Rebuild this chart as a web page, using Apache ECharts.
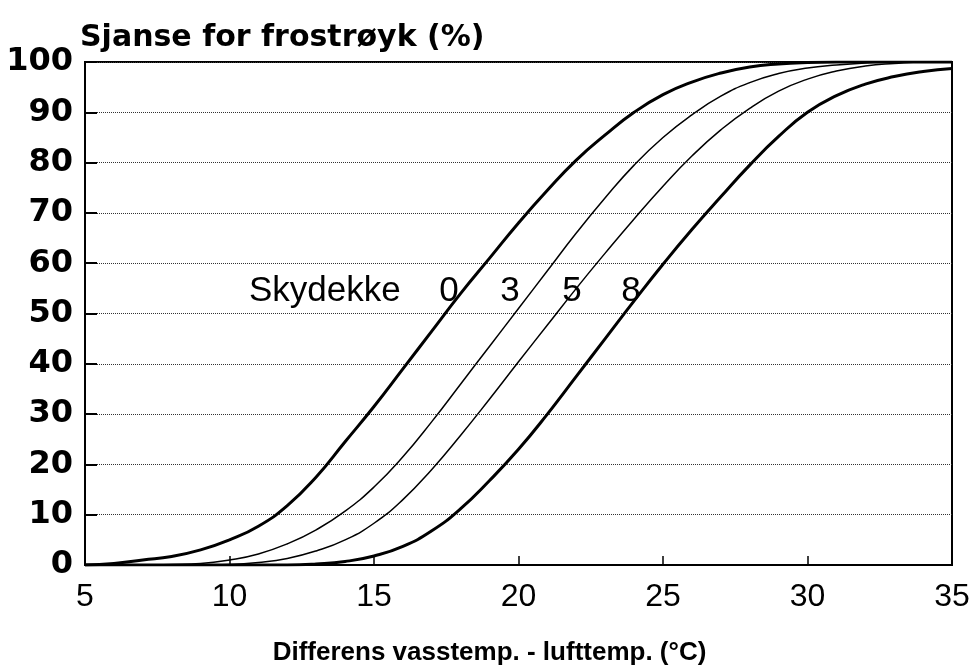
<!DOCTYPE html>
<html>
<head>
<meta charset="utf-8">
<script src="https://cdn.jsdelivr.net/npm/echarts@6/dist/echarts.min.js"></script>
<style>html,body{margin:0;padding:0;background:#fff}#c{width:976px;height:671px}</style>
</head>
<body>
<div id="c"></div>
<script>
// x values: difference water temp - air temp (°C)
const xValues = [5,6,7,8,9,10,11,12,13,14,15,16,17,18,19,20,21,22,23,24,25,26,27,28,29,30,31,32,33,34,35];
// chance of sea smoke (%) for cloud cover 0, 3, 5, 8 (octas)
const cover0 = [0,0.3,1,1.7,3,5,7.7,11.8,17.5,24.5,31.5,39,46.5,54,61,68,74.5,80.5,85.5,90,93.5,96,97.8,99,99.6,99.9,100,100,100,100,100];
const cover3 = [0,0,0,0.1,0.3,1,2.2,4.2,7,10.7,15.5,21.5,28.5,36,43.5,51,58.5,66,73,79.5,85,89.5,93.2,95.9,97.7,98.8,99.4,99.8,100,100,100];
const cover5 = [0,0,0,0,0,0.1,0.5,1.3,2.8,5,8.3,13,19,25.8,33,40.4,47.7,55,62,68.8,75.3,81.3,86.5,90.8,94.2,96.6,98.2,99.2,99.7,100,100];
const cover8 = [0,0,0,0,0,0,0,0,0.2,0.7,1.8,3.7,6.8,11.2,16.8,23,30,37.5,45,52.5,59.8,66.7,73.2,79.5,85.2,90,93.3,95.6,97.1,98.1,98.7];
const seriesNames = ['0','3','5','8'];
const seriesValues = [cover0, cover3, cover5, cover8];
const seriesWidths = [3, 1.5, 1.5, 3];

const chart = echarts.init(document.getElementById('c'), null, {renderer:'canvas'});
const series = seriesValues.map((vals, i) => ({
  name: seriesNames[i],
  type: 'line',
  data: xValues.map((x, j) => [x, vals[j]]),
  showSymbol: false,
  smooth: 0.5,
  clip: true,
  lineStyle: {color: '#000', width: seriesWidths[i]},
  z: 5
}));

const labelFont = 'Liberation Sans, Arial, sans-serif';
chart.setOption({
  animation: false,
  backgroundColor: '#fff',
  grid: {left: 85, right: 24, top: 62, bottom: 100, show: true, borderColor: '#000', borderWidth: 2, backgroundColor: 'transparent'},
  xAxis: {
    type: 'value', min: 5, max: 35, interval: 5,
    name: 'Differens vasstemp. - lufttemp. (°C)',
    nameLocation: 'middle', nameGap: 75,
    nameTextStyle: {fontFamily: labelFont, fontSize: 26, fontWeight: 'bold', color: '#000', padding: [0, 58, 0, 0]},
    axisLine: {lineStyle: {color: '#000', width: 2}},
    axisTick: {inside: true, length: 9, lineStyle: {color: '#000', width: 1.5}},
    axisLabel: {fontFamily: labelFont, fontSize: 32, color: '#000', margin: 16},
    splitLine: {show: false}
  },
  yAxis: {
    type: 'value', min: 0, max: 100, interval: 10,
    axisLine: {show: true, lineStyle: {color: '#000', width: 2}},
    axisTick: {show: true, inside: true, length: 12, lineStyle: {color: '#000', width: 2}},
    axisLabel: {fontFamily: 'DejaVu Sans', fontSize: 32, fontWeight: 'bold', color: '#000', margin: 12},
    splitLine: {show: true, lineStyle: {color: '#333', width: 1, type: 'dotted'}}
  },
  graphic: [
    {type: 'text', left: 80, top: 23, style: {text: 'Sjanse for frostrøyk (%)', font: 'bold 30px "DejaVu Sans"', fill: '#000'}},
    {type: 'text', x: 249, y: 291, style: {text: 'Skydekke', font: '35px "Liberation Sans"', fill: '#000', verticalAlign: 'middle', align: 'left'}},
    {type: 'text', x: 449, y: 291, style: {text: '0', font: '35px "Liberation Sans"', fill: '#000', verticalAlign: 'middle', align: 'center'}},
    {type: 'text', x: 510, y: 291, style: {text: '3', font: '35px "Liberation Sans"', fill: '#000', verticalAlign: 'middle', align: 'center'}},
    {type: 'text', x: 572, y: 291, style: {text: '5', font: '35px "Liberation Sans"', fill: '#000', verticalAlign: 'middle', align: 'center'}},
    {type: 'text', x: 631, y: 291, style: {text: '8', font: '35px "Liberation Sans"', fill: '#000', verticalAlign: 'middle', align: 'center'}}
  ],
  series: series
});
</script>
</body>
</html>
